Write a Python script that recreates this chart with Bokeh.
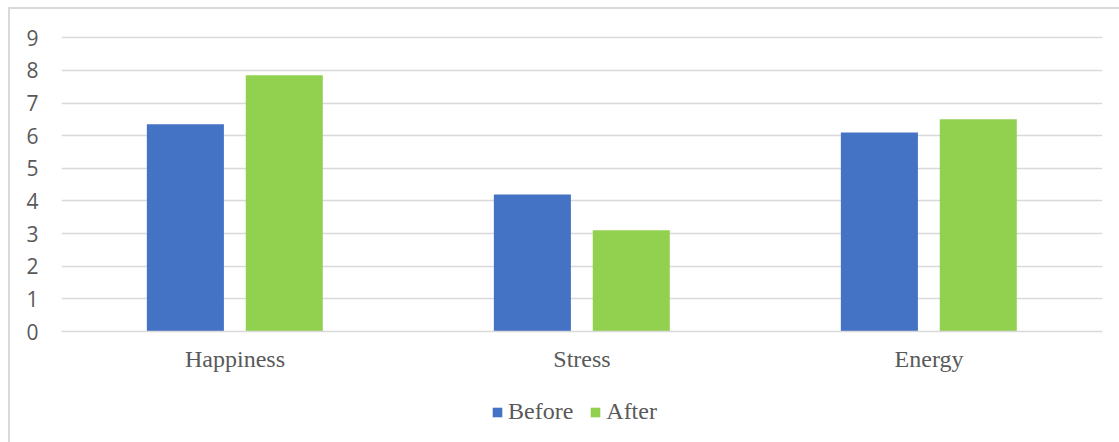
from bokeh.plotting import figure
from bokeh.layouts import column
from bokeh.models import ColumnDataSource, FactorRange, Range1d, FixedTicker, Legend, LegendItem
from bokeh.transform import dodge
from bokeh.embed import file_html
from bokeh.resources import INLINE

categories = ["Happiness", "Stress", "Energy"]
before = [6.35, 4.2, 6.1]
after = [7.85, 3.1, 6.5]
y_ticks = [0, 1, 2, 3, 4, 5, 6, 7, 8, 9]
series_names = ["Before", "After"]
colors = ["#4472C4", "#92D050"]

source = ColumnDataSource(data=dict(cat=categories, before=before, after=after))

p = figure(
    x_range=FactorRange(*categories, range_padding=0),
    y_range=Range1d(0, 9.1),
    frame_width=1041, frame_height=297,
    output_backend="svg", toolbar_location=None,
    min_border_left=51, min_border_right=17, min_border_top=25, min_border_bottom=55,
)

p.vbar(x=dodge("cat", -0.143, range=p.x_range), top="before", width=0.222,
       source=source, fill_color=colors[0], line_color=None)
p.vbar(x=dodge("cat", 0.142, range=p.x_range), top="after", width=0.222,
       source=source, fill_color=colors[1], line_color=None)

p.outline_line_color = None
p.xgrid.visible = False
p.ygrid.grid_line_color = "#d9d9d9"
p.ygrid.grid_line_width = 1.5

p.yaxis.ticker = FixedTicker(ticks=y_ticks)
p.yaxis.axis_line_color = None
p.yaxis.major_tick_line_color = None
p.yaxis.minor_tick_line_color = None
p.yaxis.major_tick_out = 0
p.yaxis.major_label_standoff = 23
p.yaxis.major_label_text_font = "Open Sans"
p.yaxis.major_label_text_font_size = "21px"
p.yaxis.major_label_text_color = "#595959"

p.xaxis.axis_line_color = "#d9d9d9"
p.xaxis.axis_line_width = 1.5
p.xaxis.major_tick_line_color = None
p.xaxis.minor_tick_line_color = None
p.xaxis.major_tick_out = 0
p.xaxis.major_label_standoff = 14
p.xaxis.major_label_text_font = "Liberation Serif"
p.xaxis.major_label_text_font_size = "24px"
p.xaxis.major_label_text_color = "#595959"

# legend strip below the chart (same data, drawn out of view, used only for the legend)
p2 = figure(width=1109, height=56, x_range=p.x_range, y_range=Range1d(100, 101),
            output_backend="svg", toolbar_location=None,
            min_border_left=0, min_border_right=0, min_border_top=0, min_border_bottom=0)
p2.axis.visible = False
p2.grid.visible = False
p2.outline_line_color = None
l1 = p2.vbar(x=dodge("cat", -0.143, range=p.x_range), top="before", width=0.222,
             source=source, fill_color=colors[0], line_color=None)
l2 = p2.vbar(x=dodge("cat", 0.142, range=p.x_range), top="after", width=0.222,
             source=source, fill_color=colors[1], line_color=None)

legend = Legend(items=[LegendItem(label=series_names[0], renderers=[l1]),
                       LegendItem(label=series_names[1], renderers=[l2])],
                orientation="horizontal", location=(430, 17))
legend.border_line_color = None
legend.background_fill_alpha = 0
legend.glyph_width = 12
legend.glyph_height = 12
legend.label_standoff = 5
legend.spacing = 16
legend.label_text_font = "Liberation Serif"
legend.label_text_font_size = "24px"
legend.label_text_color = "#595959"
legend.margin = 0
legend.padding = 0
p2.add_layout(legend)

layout = column(p, p2, spacing=0)
layout.styles = {"margin-left": "8px", "margin-top": "7px",
                 "border-left": "2px solid #d9d9d9", "border-top": "2px solid #d9d9d9"}

open("out.html", "w").write(file_html(layout, INLINE))
